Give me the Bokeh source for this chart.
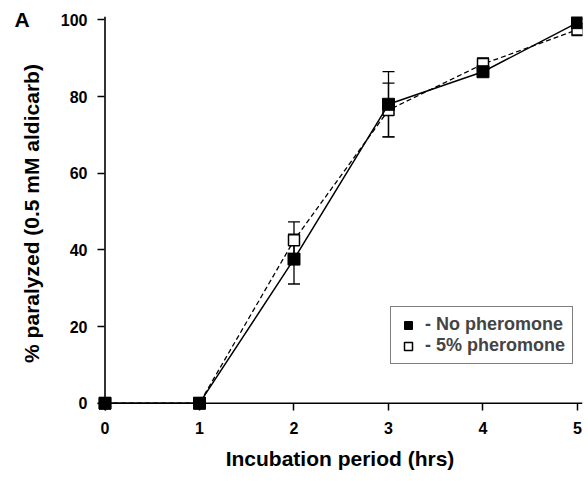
from bokeh.plotting import figure
from bokeh.models import (ColumnDataSource, Whisker, TeeHead, Range1d, Legend, LegendItem,
                          Label, FixedTicker, Span)
from bokeh.embed import file_html
from bokeh.resources import INLINE

hours = [0, 1, 2, 3, 4, 5]
no_pher = [0, 0, 37.6, 78.0, 86.5, 99.3]
no_pher_err = [0, 0, 6.5, 8.5, 1.0, 1.0]
pher5 = [0, 0, 42.5, 76.5, 88.5, 97.5]
pher5_err = [0, 0, 4.8, 7.0, 1.6, 1.6]
y_ticks = [0, 20, 40, 60, 80, 100]

FONT = "Liberation Sans"

p = figure(width=588, height=481, output_backend="svg", toolbar_location=None,
           x_range=Range1d(-0.0794, 5.053), y_range=Range1d(-1.905, 100.91),
           min_border_left=97, min_border_right=6, min_border_top=16, min_border_bottom=71)
p.outline_line_color = None
p.grid.grid_line_color = None
p.background_fill_color = "white"

s_np = ColumnDataSource(dict(x=hours, y=no_pher,
                             lo=[a - b for a, b in zip(no_pher, no_pher_err)],
                             hi=[a + b for a, b in zip(no_pher, no_pher_err)]))
s_p5 = ColumnDataSource(dict(x=hours, y=pher5,
                             lo=[a - b for a, b in zip(pher5, pher5_err)],
                             hi=[a + b for a, b in zip(pher5, pher5_err)]))

# axis lines through the origin
p.add_layout(Span(location=0, dimension="width", line_color="black", line_width=1.6))
p.add_layout(Span(location=0, dimension="height", line_color="black", line_width=1.6))

for src in (s_p5, s_np):
    w = Whisker(source=src, base="x", lower="lo", upper="hi", line_color="black", line_width=1.3,
                upper_head=TeeHead(size=12, line_color="black", line_width=1.3),
                lower_head=TeeHead(size=12, line_color="black", line_width=1.3))
    p.add_layout(w)

l_p5 = p.line("x", "y", source=s_p5, line_color="black", line_width=1.3, line_dash="5 3")
m_p5 = p.scatter("x", "y", source=s_p5, marker="square", size=11, fill_color="white",
                 line_color="black", line_width=1.5)
l_np = p.line("x", "y", source=s_np, line_color="black", line_width=1.5)
m_np = p.scatter("x", "y", source=s_np, marker="square", size=12, fill_color="black",
                 line_color="black")

for ax in (p.xaxis[0], p.yaxis[0]):
    ax.axis_line_color = None
    ax.major_tick_line_width = 1.5
    ax.major_tick_line_color = "black"
    ax.major_tick_in = 7
    ax.major_tick_out = 0
    ax.minor_tick_line_color = None
    ax.major_label_text_font = FONT
    ax.major_label_text_font_style = "bold"
    ax.major_label_text_font_size = "16px"
    ax.major_label_text_color = "black"
    ax.axis_label_text_font = FONT
    ax.axis_label_text_font_style = "bold"
    ax.axis_label_text_font_size = "21px"
    ax.axis_label_text_color = "black"

p.xaxis.ticker = FixedTicker(ticks=hours)
p.yaxis.ticker = FixedTicker(ticks=y_ticks)
p.xaxis.axis_label = "Incubation period (hrs)"
p.yaxis.axis_label = "% paralyzed (0.5 mM aldicarb)"
p.xaxis.major_label_standoff = 11
p.yaxis.major_label_standoff = 10
p.xaxis.axis_label_standoff = 10
p.yaxis.axis_label_standoff = 15

legend = Legend(items=[LegendItem(label="- No pheromone", renderers=[m_np]),
                       LegendItem(label="- 5% pheromone", renderers=[m_p5])],
                location=(293, 46))
legend.label_text_font = FONT
legend.label_text_font_style = "bold"
legend.label_text_font_size = "18px"
legend.border_line_color = "black"
legend.border_line_width = 1
legend.padding = 7
legend.spacing = 0
legend.glyph_width = 20
legend.glyph_height = 20
legend.label_standoff = 7
legend.label_height = 20
legend.margin = 0
legend.background_fill_color = "white"
p.add_layout(legend)

# panel letter, placed in the left side panel so that it is not clipped to the frame
p.add_layout(Label(x=13, y=391, x_units="screen", y_units="screen", text="A",
                   text_font=FONT, text_font_style="bold", text_font_size="21px",
                   text_baseline="alphabetic", text_color="black"), "left")

open("out.html", "w").write(file_html(p, INLINE))
